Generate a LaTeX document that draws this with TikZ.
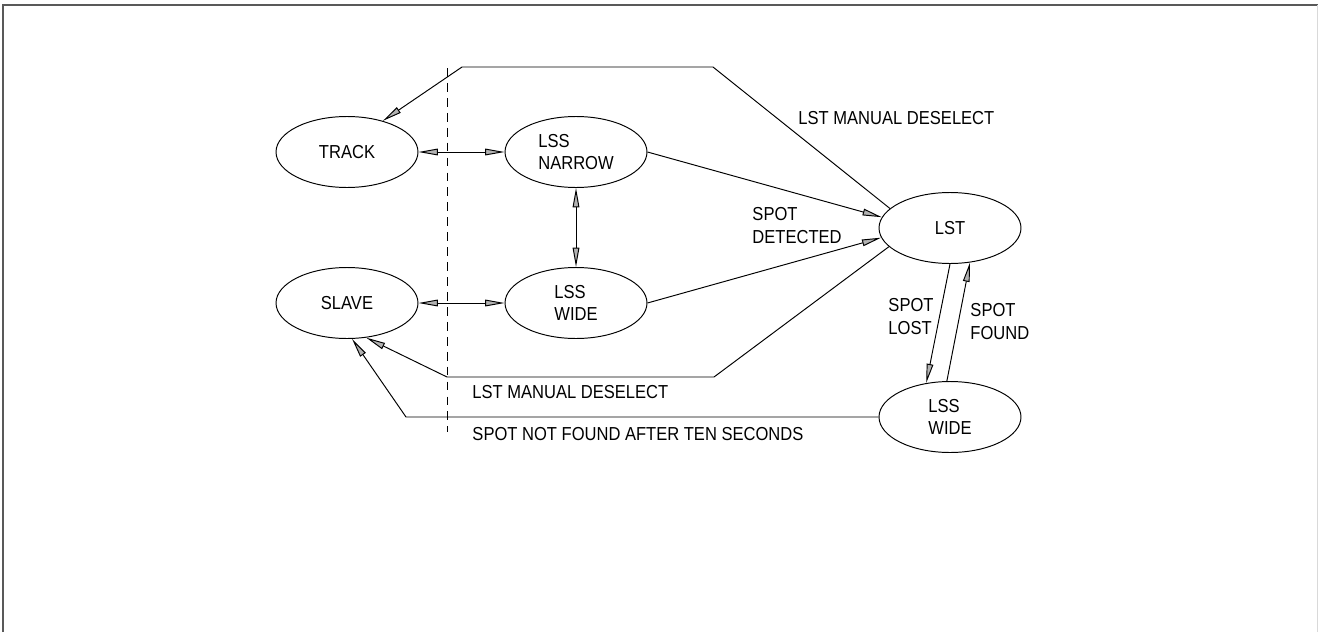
\documentclass[tikz,border=0pt]{standalone}
\usepackage{fontspec}
\setmainfont{Liberation Sans}[FakeStretch=0.88]
\usetikzlibrary{arrows.meta,positioning,shapes.geometric}

\begin{document}
\begin{tikzpicture}[x=0.02cm,y=-0.02cm,line width=0.55pt,>={Triangle[length=11pt,width=3.8pt,fill=gray!60]}]
  \tikzstyle{mode}=[draw,ellipse,align=left,minimum width=2.84cm,minimum height=1.42cm,inner sep=0pt,font=\fontsize{10.7}{12.5}\selectfont]
  \tikzstyle{cond}=[align=left,anchor=north west,inner sep=0pt,font=\fontsize{10.7}{13}\selectfont]
  \useasboundingbox (0,0) rectangle (1318,632);
  % sheet frame
  \draw[black!65,line width=1.2pt] (3,632) -- (3,5) -- (1318,5);
  \draw[black!15] (1317,5) -- (1317,632);
  \draw[dash pattern=on 5pt off 3.5pt] (447,68) -- (447,432);
  % modes
  \node[mode] (track) at (347,152) {TRACK};
  \node[mode] (slave) at (347,303) {SLAVE};
  \node[mode] (narrow) at (576,152) {LSS\\NARROW};
  \node[mode] (wide) at (576,303) {LSS\\WIDE};
  \node[mode] (lst) at (950,228) {LST};
  \node[mode] (lsswide) at (950,417) {LSS\\WIDE};
  % bends
  \coordinate (topL) at (462,67);
  \coordinate (topR) at (713,67);
  \coordinate (lowR) at (714,377);
  \coordinate (lowL) at (447,377);
  \coordinate (nfL) at (406,417);
  % transitions
  \draw[<->] (track) -- (narrow);
  \draw[<->] (slave) -- (wide);
  \draw[<->] (narrow) -- (wide);
  \draw[->] (narrow.east) -- (lst.171);
  \draw[->] (wide.east) -- (lst.188);
  \draw[->] (lst.162) -- (topR) -- (topL) -- (track.41);
  \draw[->] (lst.197) -- (lowR) -- (lowL) -- (slave.299);
  \draw[->] (lsswide.west) -- (nfL) -- (slave.278);
  \draw[->] (lst.270) -- (lsswide.125);
  \draw[->] (lsswide.95) -- (lst.300);
  % conditions
  \node[cond] (topdes) at (798,111) {LST MANUAL DESELECT};
  \node[cond] (lowdes) at (472,385) {LST MANUAL DESELECT};
  \node[cond] (notfound) at (472,427) {SPOT NOT FOUND AFTER TEN SECONDS};
  \node[cond] (detected) at (752,207) {SPOT\\DETECTED};
  \node[cond] (lost) at (888,298) {SPOT\\LOST};
  \node[cond] (found) at (970,303) {SPOT\\FOUND};
\end{tikzpicture}
\end{document}
